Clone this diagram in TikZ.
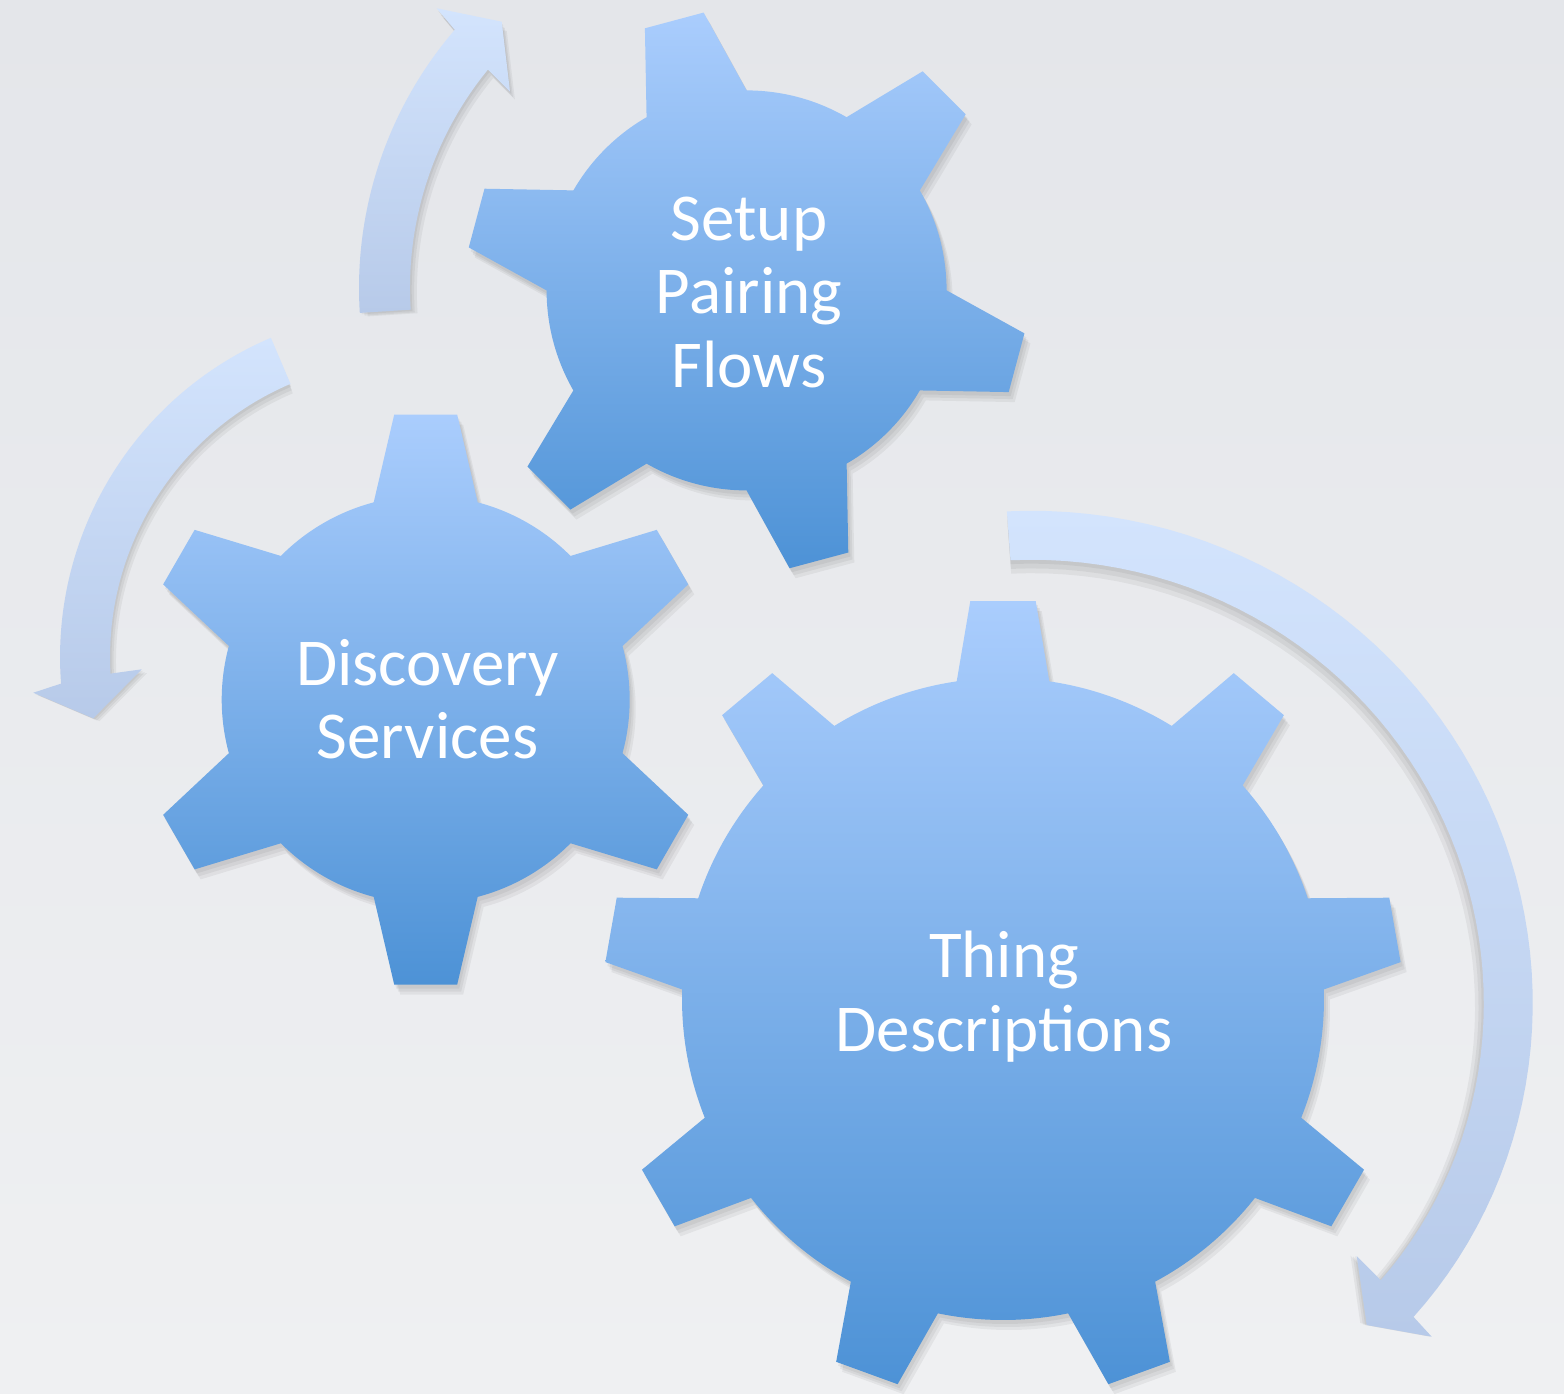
\documentclass[tikz,border=0pt]{standalone}
\usepackage{fontspec}
\setmainfont{Carlito}
\definecolor{gtop}{HTML}{AACDFD}
\definecolor{gbot}{HTML}{4D92D6}
\definecolor{atop}{HTML}{D3E4FD}
\definecolor{abot}{HTML}{B7CAE9}
\definecolor{bgtop}{HTML}{E4E6EA}
\definecolor{bgbot}{HTML}{EFF0F2}
\tikzset{
  shadowlayer/.style={fill=black, fill opacity=0.05},
  gearshade/.style={top color=gtop, bottom color=gbot},
  arrowshade/.style={top color=atop, bottom color=abot},
  gearlabel/.style={text=white, font=\fontsize{67}{73.5}\selectfont, inner sep=0pt, anchor=base},
}
% gear outline, relative to the gear centre
\newcommand\gearoutline{(\gtz-\gbb:\grin) \foreach \i in {0,...,\gnm}{ -- ({\gtz+\i*\gst-\gbt}:\grt) -- ({\gtz+\i*\gst+\gbt}:\grt) -- ({\gtz+\i*\gst+\gbb}:\grin) arc[start angle={\gtz+\i*\gst+\gbb}, end angle={\gtz+(\i+1)*\gst-\gbb}, radius=\grin] } -- cycle}
% #1 cx, #2 cy (image), #3 teeth, #4 phase, #5 tip radius, #6 tip half width, #7 root radius, #8 root half width
\newcommand\drawgear[8]{%
  \pgfmathsetmacro\gst{360/#3}%
  \pgfmathtruncatemacro\gnm{#3-1}%
  \pgfmathsetmacro\gbt{atan((#6)/(#5))}%
  \pgfmathsetmacro\grt{(#5)/cos(\gbt)}%
  \pgfmathsetmacro\gbb{asin((#8)/(#7))}%
  \pgfmathsetmacro\grin{#7}%
  \pgfmathsetmacro\gtz{#4}%
  \begin{scope}[shift={(#1,-#2)}]
    \fill[shadowlayer, shift={(6,-10)}] \gearoutline;
    \fill[shadowlayer, shift={(4,-7)}] \gearoutline;
    \fill[shadowlayer, shift={(2,-4)}] \gearoutline;
    \shade[gearshade] \gearoutline;
  \end{scope}}
\newcommand\arrowA{(359.8,-312.9) arc[start angle=183.6, end angle=139.3, radius=396] -- (436.7,-8.3) -- (501.7,-21.7) -- (510,-91.7) -- (488.0,-69.5) arc[start angle=140.7, end angle=183.6, radius=345] -- cycle}
\newcommand\arrowB{(270.9,-337.8) arc[start angle=113.1, end angle=184.4, radius=347] -- (33.3,-692.7) -- (93.3,-718.3) -- (141.7,-669.3) -- (110.5,-673.6) arc[start angle=183.2, end angle=113.1, radius=297] -- cycle}
\newcommand\arrowC{(1006.9,-511.4) -- plot[domain=94.2:-37.9, samples=60, variable=\a] ({1045+rr(\a)*cos(\a)},{-1030+rr(\a)*sin(\a)}) -- (1431.7,-1336.7) -- (1366.7,-1325) -- (1356.7,-1256) -- plot[domain=-36.7:94.2, samples=60, variable=\a] ({1045+(rr(\a)-49)*cos(\a)},{-1030+(rr(\a)-49)*sin(\a)}) -- cycle}
\begin{document}
\begin{tikzpicture}[x=1pt,y=1pt, declare function={rr(\t)=487+0.4759*\t-0.001327*\t*\t;}]
\useasboundingbox (0,0) rectangle (1564,-1393);
\shade[top color=bgtop, bottom color=bgbot] (0,0) rectangle (1564,-1393);

% arrows (shadow falls towards the inside of each arc)
\foreach \f/\dy in {0.98/-4,0.988/-3,0.995/-1.5}{
  \fill[shadowlayer, shift={(0,\dy)}, scale around={\f:(755,-288)}] \arrowA;
  \fill[shadowlayer, shift={(0,\dy)}, scale around={\f:(407,-657)}] \arrowB;
  \fill[shadowlayer, shift={(0,\dy)}, scale around={\f:(1045,-1030)}] \arrowC;
}
\shade[arrowshade] \arrowA;
\shade[arrowshade] \arrowB;
\shade[arrowshade] \arrowC;

% gears
\drawgear{746.6}{290.4}{6}{105}{279.5}{30.4}{200}{51.8}
\drawgear{425.7}{699.6}{6}{90}{285}{31.5}{204}{52}
\drawgear{1003}{999}{9}{90}{398}{32.7}{321}{46.3}

% labels
\node[gearlabel] (setup) at (749,-240.4) {\begin{tabular}[t]{@{}c@{}}Setup\\Pairing\\Flows\end{tabular}};
\node[gearlabel] (discovery) at (427.5,-685) {\begin{tabular}[t]{@{}c@{}}Discovery\\Services\end{tabular}};
\node[gearlabel] (thing) at (1004,-977.7) {\begin{tabular}[t]{@{}c@{}}Thing\\Descriptions\end{tabular}};
\end{tikzpicture}
\end{document}
